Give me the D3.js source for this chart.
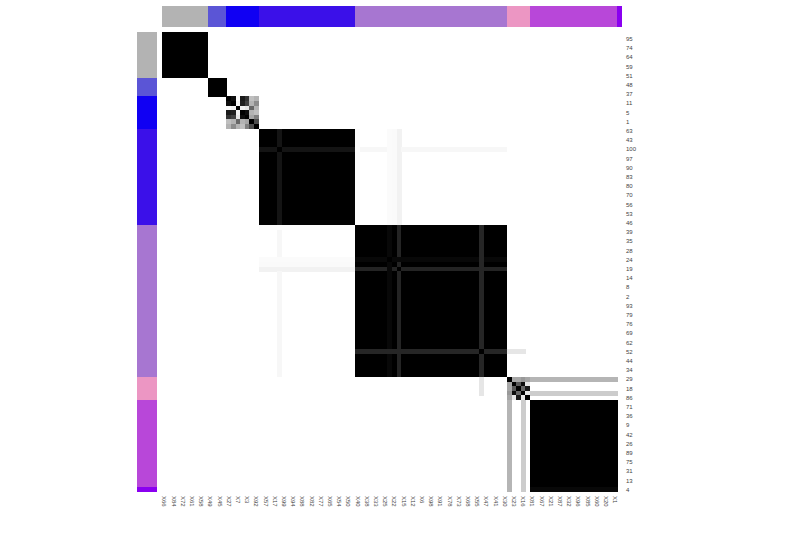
<!DOCTYPE html>
<html><head><meta charset="utf-8">
<script src="https://cdn.jsdelivr.net/npm/d3@7"></script>
<style>body{margin:0;background:#fff}svg{display:block}</style>
</head><body>
<svg id="chart" width="800" height="540"></svg>
<script>
// ---- data ----
// row labels (shown on odd display positions) and column labels (shown on even positions)
const rowLabels = ["95","74","64","59","51","48","37","11","5","1","63","43","100","97","90","83","80","70","56","53","46","39","35","28","24","19","14","8","2","93","79","76","69","62","52","44","34","29","18","86","71","36","9","42","26","89","75","31","13","4"];
const colLabels = ["X66","X84","X72","X61","X58","X49","X45","X27","X7","X3","X92","X57","X17","X99","X94","X88","X82","X77","X65","X54","X50","X40","X38","X33","X25","X22","X15","X12","X6","X98","X91","X78","X73","X68","X55","X47","X41","X30","X23","X16","X81","X67","X21","X87","X32","X96","X85","X60","X20","X1"];
// consensus clusters in display order
const clusterSizes  = [10, 4, 7, 21, 33, 5, 19, 1];
const clusterColors = ["#b3b3b3","#5b55d6","#1000f3","#3b10e9","#a776d1","#ec96c3","#b847d9","#8a00f0"];
// irregular sub-blocks (consensus values) of cluster 3 (positions 14-20) and cluster 6 (positions 75-79)
const blockC3Start = 14;
const blockC3 = [
  [1.00,0.95,0.02,0.90,0.80,0.25,0.30],
  [0.95,1.00,0.05,0.88,0.75,0.30,0.45],
  [0.02,0.05,1.00,0.05,0.10,0.60,0.30],
  [0.90,0.88,0.05,1.00,0.95,0.30,0.25],
  [0.80,0.75,0.10,0.95,1.00,0.35,0.50],
  [0.25,0.30,0.60,0.30,0.35,1.00,0.70],
  [0.30,0.45,0.30,0.25,0.50,0.70,1.00]
];
const blockC6Start = 75;
const blockC6 = [
  [1.00,0.35,0.35,0.40,0.35],
  [0.35,1.00,0.65,0.95,0.10],
  [0.35,0.65,1.00,0.60,0.90],
  [0.40,0.95,0.60,1.00,0.10],
  [0.35,0.10,0.90,0.10,1.00]
];
// samples whose consensus with a range of positions differs from the default (applied symmetrically)
const lineSample = [25,   25,   51,   51,   50,   49,    49,   69,   69,   42,   75,   78];
const lineFrom   = [21,   42,   42,   21,   21,   42,    21,   42,   75,   21,   80,   80];
const lineTo     = [41,   74,   74,   41,   41,   74,    41,   74,   78,   41,   98,   98];
const lineValue  = [0.92, 0.03, 0.86, 0.05, 0.02, 0.97, 0.015, 0.85, 0.10, 0.02, 0.29, 0.20];
// last (singleton) sample: row consensus with cluster 7 columns; its column stays empty
const lastRowValue = 0.97;

// ---- build matrix ----
const N = d3.sum(clusterSizes);
const clusterOf = [];
clusterSizes.forEach((s, k) => { for (let i = 0; i < s; i++) clusterOf.push(k); });
const M = d3.range(N).map(i => d3.range(N).map(j => clusterOf[i] === clusterOf[j] ? 1 : 0));
blockC3.forEach((r, i) => r.forEach((v, j) => { M[blockC3Start+i][blockC3Start+j] = v; }));
blockC6.forEach((r, i) => r.forEach((v, j) => { M[blockC6Start+i][blockC6Start+j] = v; }));
lineSample.forEach((s, k) => {
  for (let j = lineFrom[k]; j <= lineTo[k]; j++) {
    if (j === s) continue;
    M[s][j] = lineValue[k]; M[j][s] = lineValue[k];
  }
});
const last = N - 1;
for (let j = 0; j < N; j++) M[last][j] = (clusterOf[j] === 6) ? lastRowValue : 0;
M[last][75] = lineValue[10]; M[last][78] = lineValue[11];
for (let i = 0; i < N; i++) M[i][last] = 0;

// ---- draw ----
const svg = d3.select("#chart");
const x = d3.scaleBand().domain(d3.range(N)).range([162, 622]);
const y = d3.scaleBand().domain(d3.range(N)).range([32, 492]);
const color = d3.scaleLinear().domain([0, 1]).range(["#ffffff", "#000000"]);

const cells = [];
for (let i = 0; i < N; i++) for (let j = 0; j < N; j++) if (M[i][j] > 0) cells.push({i, j, v: M[i][j]});
svg.append("g").attr("shape-rendering","crispEdges").selectAll("rect").data(cells).join("rect")
  .attr("x", d => x(d.j)).attr("y", d => y(d.i))
  .attr("width", x.bandwidth() + 0.3).attr("height", y.bandwidth() + 0.3)
  .attr("fill", d => color(d.v));

// annotation bars
const ann = d3.range(N).map(i => ({i, c: clusterColors[clusterOf[i]]}));
svg.append("g").attr("shape-rendering","crispEdges").selectAll("rect").data(ann).join("rect")
  .attr("x", d => x(d.i)).attr("y", 6).attr("width", x.bandwidth() + 0.3).attr("height", 21)
  .attr("fill", d => d.c);
svg.append("g").attr("shape-rendering","crispEdges").selectAll("rect").data(ann).join("rect")
  .attr("x", 137).attr("y", d => y(d.i)).attr("width", 20).attr("height", y.bandwidth() + 0.3)
  .attr("fill", d => d.c);

// labels
svg.append("g").selectAll("text").data(rowLabels).join("text")
  .attr("x", 626).attr("y", (d, k) => y(2*k+1) + y.bandwidth()/2)
  .attr("dominant-baseline","central")
  .attr("font-family","Liberation Sans, Arial, sans-serif").attr("font-size", 6)
  .attr("fill","#444").text(d => d);
svg.append("g").selectAll("text").data(colLabels).join("text")
  .attr("transform", (d, k) => `translate(${x(2*k) + x.bandwidth()/2},496) rotate(90)`)
  .attr("dominant-baseline","central")
  .attr("font-family","Liberation Sans, Arial, sans-serif").attr("font-size", 6)
  .attr("fill","#444").text(d => d);
</script>
</body></html>
